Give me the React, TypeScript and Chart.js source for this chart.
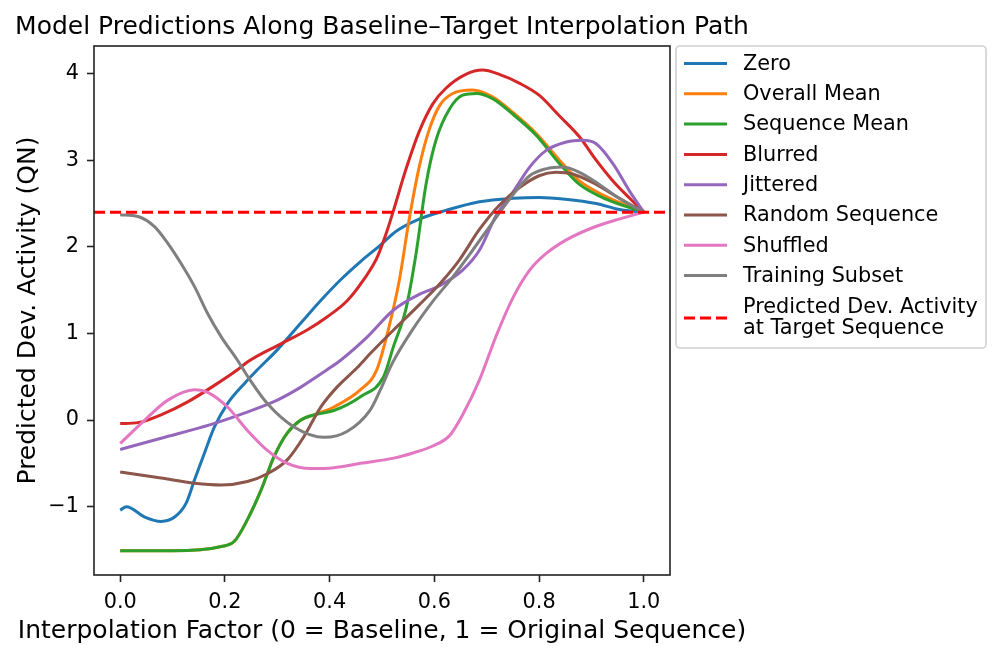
import React, { useEffect, useRef } from "react";
import { Chart, registerables } from "chart.js";

Chart.register(...registerables);

// values
const zeroX = [0, 0.012, 0.047, 0.078, 0.104, 0.126, 0.142, 0.161, 0.18, 0.205, 0.237, 0.262, 0.3, 0.345, 0.383, 0.421, 0.459, 0.497, 0.527, 0.571, 0.622, 0.686, 0.75, 0.8, 0.85, 0.909, 0.953, 1.0];
const zeroY = [-1.04, -1.0, -1.12, -1.17, -1.12, -0.96, -0.69, -0.38, -0.08, 0.19, 0.42, 0.58, 0.81, 1.12, 1.38, 1.62, 1.83, 2.02, 2.18, 2.32, 2.42, 2.52, 2.56, 2.57, 2.55, 2.5, 2.43, 2.4];

const overallX = [0, 0.1, 0.193, 0.218, 0.243, 0.269, 0.294, 0.319, 0.345, 0.37, 0.408, 0.459, 0.49, 0.514, 0.533, 0.552, 0.571, 0.59, 0.61, 0.635, 0.673, 0.711, 0.75, 0.794, 0.839, 0.877, 0.928, 1.0];
const overallY = [-1.51, -1.51, -1.46, -1.4, -1.15, -0.81, -0.42, -0.15, 0.0, 0.06, 0.15, 0.35, 0.58, 1.09, 1.61, 2.32, 2.92, 3.35, 3.63, 3.77, 3.81, 3.73, 3.55, 3.31, 3.0, 2.76, 2.58, 2.4];

const seqMeanX = [0, 0.1, 0.193, 0.218, 0.243, 0.269, 0.294, 0.319, 0.345, 0.37, 0.408, 0.459, 0.503, 0.522, 0.546, 0.565, 0.584, 0.603, 0.629, 0.654, 0.68, 0.711, 0.75, 0.794, 0.839, 0.877, 0.928, 1.0];
const seqMeanY = [-1.51, -1.51, -1.46, -1.4, -1.15, -0.81, -0.42, -0.15, 0.0, 0.06, 0.11, 0.27, 0.5, 0.85, 1.29, 1.92, 2.72, 3.23, 3.59, 3.75, 3.77, 3.71, 3.53, 3.29, 2.96, 2.72, 2.55, 2.4];

const blurredX = [0, 0.034, 0.078, 0.129, 0.18, 0.224, 0.243, 0.307, 0.357, 0.395, 0.434, 0.465, 0.491, 0.51, 0.522, 0.546, 0.571, 0.597, 0.622, 0.66, 0.692, 0.724, 0.762, 0.8, 0.839, 0.877, 0.909, 0.941, 0.973, 1.0];
const blurredY = [-0.04, -0.03, 0.06, 0.21, 0.4, 0.58, 0.67, 0.88, 1.04, 1.19, 1.38, 1.62, 1.88, 2.19, 2.42, 2.9, 3.33, 3.65, 3.83, 3.99, 4.04, 3.99, 3.89, 3.75, 3.51, 3.27, 3.0, 2.76, 2.56, 2.4];

const jitteredX = [0, 0.078, 0.174, 0.237, 0.3, 0.345, 0.395, 0.421, 0.472, 0.522, 0.571, 0.61, 0.654, 0.686, 0.718, 0.75, 0.782, 0.813, 0.852, 0.883, 0.909, 0.941, 0.973, 1.0];
const jitteredY = [-0.34, -0.21, -0.05, 0.08, 0.23, 0.38, 0.58, 0.69, 0.96, 1.27, 1.45, 1.55, 1.73, 1.96, 2.36, 2.63, 2.92, 3.11, 3.21, 3.23, 3.19, 2.96, 2.64, 2.4];

const randomX = [0, 0.078, 0.142, 0.193, 0.243, 0.281, 0.319, 0.351, 0.383, 0.414, 0.452, 0.478, 0.522, 0.571, 0.61, 0.648, 0.686, 0.724, 0.762, 0.8, 0.832, 0.864, 0.909, 0.953, 1.0];
const randomY = [-0.6, -0.67, -0.73, -0.75, -0.71, -0.62, -0.46, -0.19, 0.15, 0.38, 0.6, 0.77, 1.04, 1.33, 1.57, 1.85, 2.2, 2.48, 2.68, 2.82, 2.86, 2.84, 2.72, 2.56, 2.4];

const shuffledX = [0, 0.047, 0.091, 0.142, 0.167, 0.205, 0.243, 0.281, 0.319, 0.364, 0.408, 0.459, 0.522, 0.559, 0.597, 0.629, 0.654, 0.686, 0.718, 0.75, 0.782, 0.813, 0.852, 0.902, 0.953, 1.0];
const shuffledY = [-0.27, 0.0, 0.23, 0.35, 0.32, 0.15, -0.12, -0.35, -0.5, -0.56, -0.55, -0.5, -0.44, -0.38, -0.3, -0.18, 0.06, 0.46, 0.97, 1.41, 1.73, 1.92, 2.08, 2.22, 2.32, 2.4];

const trainingX = [0, 0.034, 0.066, 0.091, 0.116, 0.142, 0.167, 0.193, 0.224, 0.246, 0.281, 0.332, 0.389, 0.434, 0.478, 0.497, 0.52, 0.559, 0.597, 0.635, 0.673, 0.711, 0.75, 0.782, 0.813, 0.845, 0.877, 0.915, 0.953, 1.0];
const trainingY = [2.37, 2.35, 2.23, 2.04, 1.81, 1.54, 1.23, 0.96, 0.69, 0.48, 0.19, -0.08, -0.2, -0.13, 0.12, 0.35, 0.66, 1.05, 1.37, 1.65, 1.96, 2.28, 2.6, 2.82, 2.9, 2.92, 2.86, 2.72, 2.56, 2.4];

const targetValue = 2.4;
const targetX = [-0.05, 1.05];

const seriesNames = ["Zero", "Overall Mean", "Sequence Mean", "Blurred", "Jittered", "Random Sequence", "Shuffled", "Training Subset"];
const seriesColors = ["#1f77b4", "#ff7f0e", "#2ca02c", "#d62728", "#9467bd", "#8c564b", "#e377c2", "#7f7f7f"];
const seriesX = [zeroX, overallX, seqMeanX, blurredX, jitteredX, randomX, shuffledX, trainingX];
const seriesY = [zeroY, overallY, seqMeanY, blurredY, jitteredY, randomY, shuffledY, trainingY];

const xTicks = [0, 0.2, 0.4, 0.6, 0.8, 1.0];
const yTicks = [-1, 0, 1, 2, 3, 4];
const targetLabel = ["Predicted Dev. Activity", "at Target Sequence"];
const titleText = "Model Predictions Along Baseline\u2013Target Interpolation Path";
const xTitleText = "Interpolation Factor (0 = Baseline, 1 = Original Sequence)";

const FONT = "'DejaVu Sans', sans-serif";

// axes frame on all four sides plus title and x label centred over the axes
const framePlugin = {
    id: "frame",
    afterDatasetsDraw(chart: Chart) {
        const { ctx, chartArea } = chart;
        ctx.save();
        ctx.strokeStyle = "#222";
        ctx.lineWidth = 1.6;
        ctx.strokeRect(chartArea.left, chartArea.top, chartArea.right - chartArea.left, chartArea.bottom - chartArea.top);
        const cx = (chartArea.left + chartArea.right) / 2;
        ctx.fillStyle = "#000";
        ctx.font = `25px ${FONT}`;
        ctx.textAlign = "center";
        ctx.textBaseline = "alphabetic";
        ctx.fillText(titleText, cx, chartArea.top - 12.5);
        ctx.fillText(xTitleText, cx, chartArea.bottom + 63);
        ctx.restore();
    },
};

// legend outside the axes, top right
const legendPlugin = {
    id: "outsideLegend",
    afterDraw(chart: Chart) {
        const { ctx, chartArea } = chart;
        const left = chartArea.right + 6;
        const top = chartArea.top;
        const w = 310;
        const h = 302;
        ctx.save();
        ctx.beginPath();
        ctx.roundRect(left, top, w, h, 4);
        ctx.fillStyle = "rgba(255,255,255,0.8)";
        ctx.fill();
        ctx.strokeStyle = "#d0d0d0";
        ctx.lineWidth = 1.6;
        ctx.stroke();

        ctx.font = `20.8px ${FONT}`;
        ctx.textBaseline = "middle";
        ctx.fillStyle = "#000";
        ctx.lineWidth = 3;
        const lineX0 = left + 8;
        const lineX1 = left + 51;
        const textX = left + 67;
        seriesNames.forEach((name, i) => {
            const y = top + 17.5 + i * 30.3;
            ctx.strokeStyle = seriesColors[i];
            ctx.setLineDash([]);
            ctx.beginPath();
            ctx.moveTo(lineX0, y);
            ctx.lineTo(lineX1, y);
            ctx.stroke();
            ctx.fillText(name, textX, y + 1);
        });
        const yd = top + 272;
        ctx.strokeStyle = "#ff0000";
        ctx.setLineDash([11, 5]);
        ctx.beginPath();
        ctx.moveTo(lineX0, yd);
        ctx.lineTo(lineX1, yd);
        ctx.stroke();
        ctx.setLineDash([]);
        ctx.fillText(targetLabel[0], textX, top + 261.5);
        ctx.fillText(targetLabel[1], textX, top + 283);
        ctx.restore();
    },
};

const App: React.FC = () => {
    const canvasRef = useRef<HTMLCanvasElement | null>(null);

    useEffect(() => {
        document.body.style.margin = "0";
        const canvas = canvasRef.current;
        if (!canvas) return;

        const datasets: any[] = seriesNames.map((name, i) => ({
            label: name,
            data: seriesX[i].map((x, j) => ({ x, y: seriesY[i][j] })),
            borderColor: seriesColors[i],
            backgroundColor: seriesColors[i],
            borderWidth: 3,
            pointRadius: 0,
            cubicInterpolationMode: "monotone",
            order: -i,
        }));
        datasets.push({
            label: "Predicted Dev. Activity at Target Sequence",
            data: targetX.map((x) => ({ x, y: targetValue })),
            borderColor: "#ff0000",
            borderWidth: 3,
            borderDash: [11, 5],
            pointRadius: 0,
            tension: 0,
            order: -10,
        });

        const chart = new Chart(canvas, {
            type: "line",
            data: { datasets },
            options: {
                responsive: false,
                animation: false,
                layout: { padding: { left: 0, right: 331, top: 46, bottom: 0 } },
                plugins: {
                    legend: { display: false },
                    tooltip: { enabled: false },
                    title: { display: false },
                },
                scales: {
                    x: {
                        type: "linear",
                        min: -0.05,
                        max: 1.05,
                        afterBuildTicks: (scale: any) => {
                            scale.ticks = xTicks.map((v) => ({ value: v }));
                        },
                        afterFit: (scale: any) => {
                            scale.height = 82;
                        },
                        border: { display: false },
                        grid: {
                            drawOnChartArea: false,
                            drawTicks: true,
                            tickLength: 7,
                            tickColor: "#222",
                            tickWidth: 1.6,
                        },
                        ticks: {
                            color: "#000",
                            padding: 8,
                            maxRotation: 0,
                            font: { family: FONT, size: 20.8 },
                            callback: (v: any) => Number(v).toFixed(1),
                        },
                        title: { display: false },
                    },
                    y: {
                        type: "linear",
                        min: -1.789,
                        max: 4.318,
                        afterBuildTicks: (scale: any) => {
                            scale.ticks = yTicks.map((v) => ({ value: v }));
                        },
                        afterFit: (scale: any) => {
                            scale.width = 94;
                        },
                        border: { display: false },
                        grid: {
                            drawOnChartArea: false,
                            drawTicks: true,
                            tickLength: 7,
                            tickColor: "#222",
                            tickWidth: 1.6,
                        },
                        ticks: {
                            color: "#000",
                            padding: 8,
                            font: { family: FONT, size: 20.8 },
                            callback: (v: any) => (v < 0 ? "\u2212" + Math.abs(v) : String(v)),
                        },
                        title: {
                            display: true,
                            text: "Predicted Dev. Activity (QN)",
                            color: "#000",
                            font: { family: FONT, size: 25 },
                            padding: { top: 13, bottom: 0 },
                        },
                    },
                },
            },
            plugins: [framePlugin, legendPlugin],
        });

        return () => {
            chart.destroy();
        };
    }, []);

    return (
        <div style={{ width: 1001, height: 657 }}>
            <canvas ref={canvasRef} width={1001} height={657} />
        </div>
    );
};

export default App;
